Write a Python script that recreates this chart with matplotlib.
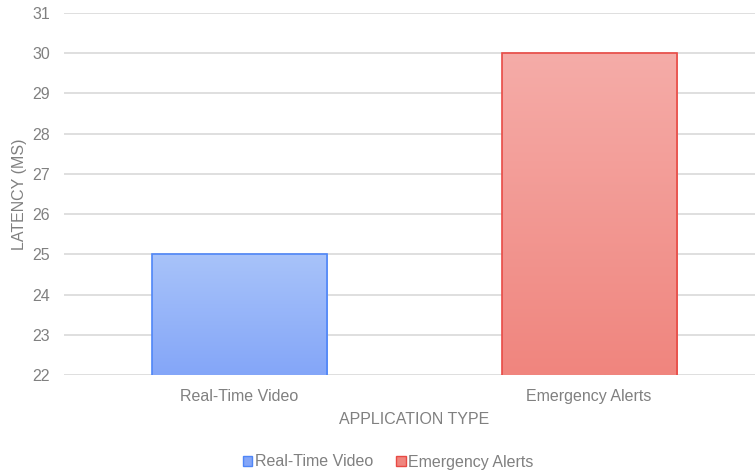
import numpy as np
import matplotlib
matplotlib.use("Agg")
import matplotlib.pyplot as plt
from matplotlib.colors import LinearSegmentedColormap
from matplotlib.patches import Patch

# data
categories = ["Real-Time Video", "Emergency Alerts"]
latency = [25, 30]
top_colors = ["#a8c3fa", "#f5aca8"]
bottom_colors = ["#84a6f8", "#f0857e"]
edge_colors = ["#4f86f7", "#e84a45"]

plt.rcParams['font.family'] = ['Liberation Sans', 'DejaVu Sans']
grey = "#808080"

fig = plt.figure(figsize=(7.55, 4.75), dpi=100)
ax = fig.add_axes([64/755, 100/475, 691/755, 362/475])

x = np.arange(len(categories))
bars = ax.bar(x, latency, width=0.5, bottom=0, color="none",
              edgecolor=edge_colors, linewidth=1.2, zorder=3)

ymin, ymax = 22, 31
ax.set_ylim(ymin, ymax)
ax.set_xlim(-0.5, 1.474)

# gradient fill for each bar
for b, c_top, c_bot in zip(bars, top_colors, bottom_colors):
    cmap = LinearSegmentedColormap.from_list("g", [c_bot, c_top])
    grad = np.linspace(0, 1, 256).reshape(-1, 1)
    x0 = b.get_x()
    x1 = x0 + b.get_width()
    im = ax.imshow(grad, cmap=cmap, origin="lower", aspect="auto",
                   extent=[x0, x1, ymin, b.get_height()], zorder=2)
    im.set_clip_path(b)
ax.set_aspect("auto")

ax.set_yticks(range(ymin, ymax + 1))
ax.set_xticks(x)
ax.set_xticklabels(categories)
ax.tick_params(axis="both", length=0, colors=grey, labelsize=11.5)
ax.tick_params(axis="y", pad=10)
ax.tick_params(axis="x", pad=10)
ax.grid(axis="y", color="#d9d9d9", linewidth=1.2, zorder=0)
for s in ax.spines.values():
    s.set_visible(False)

ax.set_ylabel("LATENCY (MS)", color=grey, fontsize=11.5, labelpad=4)
ax.set_xlabel("APPLICATION TYPE", color=grey, fontsize=11.5, labelpad=5)
ax.xaxis.set_label_coords(0.5065, -0.103)

handles = [Patch(facecolor=bottom_colors[i], edgecolor=edge_colors[i], label=categories[i])
           for i in range(len(categories))]
fig.legend(handles=handles, loc="center", bbox_to_anchor=(388/755, 1 - 462/475),
           ncol=2, frameon=False, fontsize=11.5, labelcolor=grey,
           handlelength=0.6, handleheight=0.6, handletextpad=0.15, columnspacing=1.45)

fig.savefig("out.png", dpi=100)
